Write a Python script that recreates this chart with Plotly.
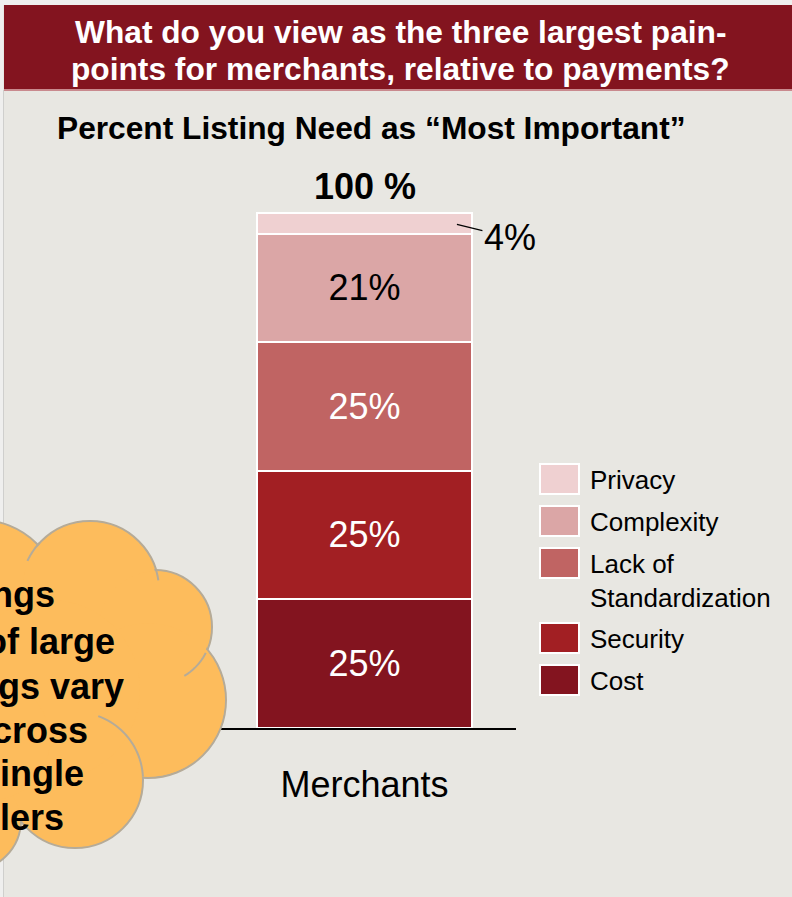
import numpy as np
import plotly.graph_objects as go

W, H = 792, 897
FONT = "Liberation Sans, Arial, Helvetica, sans-serif"

# ---- data -------------------------------------------------------------
category = ["Merchants"]
segments = ["Cost", "Security", "Lack of Standardization", "Complexity", "Privacy"]
legend_labels = ["Cost", "Security", "Lack of<br>Standardization", "Complexity", "Privacy"]
shares = [25, 25, 25, 21, 4]
seg_colors = ["#83141f", "#a21f23", "#c06463", "#dba6a6", "#efd0d1"]
label_colors = ["white", "white", "white", "black", "black"]

title_lines = ["What do you view as the three largest pain-",
               "points for merchants, relative to payments?"]
subtitle = "Percent Listing Need as \u201cMost Important\u201d"
callout_lines = ["ngs", "of large", "gs vary", "cross", "ingle", "lers"]


def px(x):
    return x / W


def py(y):
    return 1 - y / H


# plot frame in pixels: axis line at y=728, 100% at y=213
X_LEFT, X_RIGHT = 213, 516
Y_ZERO, Y_FULL = 728, 213
unit = (Y_ZERO - Y_FULL) / 100.0
y_top_val = 101
y_top_px = Y_ZERO - y_top_val * unit

fig = go.Figure()
for name, v, c, lc in zip(segments, shares, seg_colors, label_colors):
    fig.add_trace(go.Bar(
        x=category, y=[v], name=name,
        marker=dict(color=c, line=dict(color="white", width=2)),
        text=[f"{v}%" if v >= 10 else ""],
        textposition="inside", insidetextanchor="middle",
        textfont=dict(size=36, color=lc, family=FONT),
        width=0.71, showlegend=False, hoverinfo="skip",
    ))

total = sum(shares)
annotations = []
shapes = []

# total above the bar
annotations.append(dict(
    x=category[0], y=total, xref="x", yref="y", text=f"{total} %",
    showarrow=False, yanchor="middle", yshift=26,
    font=dict(size=36, family=FONT, color="black", weight="bold"),
))
# small top segment labelled outside with a leader line
annotations.append(dict(
    x=0.305, y=total - shares[-1] * 0.55, xref="x", yref="y",
    text=f"{shares[-1]}%", showarrow=True, arrowhead=0, arrowwidth=1.2,
    arrowcolor="black", ax=53, ay=13,
    font=dict(size=36, family=FONT, color="black"),
))

# ---- page frame ---------------------------------------------------------
shapes.append(dict(type="rect", xref="paper", yref="paper", layer="below",
                   x0=0, x1=1, y0=py(0), y1=py(5), fillcolor="#efefee", line_width=0))
shapes.append(dict(type="rect", xref="paper", yref="paper", layer="below",
                   x0=0, x1=px(3), y0=0, y1=1, fillcolor="#efefee", line_width=0))
shapes.append(dict(type="line", xref="paper", yref="paper", layer="below",
                   x0=px(3.5), x1=px(3.5), y0=0, y1=py(90),
                   line=dict(color="#cfcfcd", width=1)))
shapes.append(dict(type="rect", xref="paper", yref="paper", layer="below",
                   x0=px(4), x1=1, y0=py(89), y1=py(5), fillcolor="#83141f", line_width=0))
shapes.append(dict(type="rect", xref="paper", yref="paper", layer="below",
                   x0=px(4), x1=1, y0=py(91), y1=py(89), fillcolor="#c98a8e", line_width=0))

for txt, cy in zip(title_lines, [32, 69]):
    annotations.append(dict(
        x=px(400), y=py(cy), xref="paper", yref="paper", text=txt,
        showarrow=False, xanchor="center", yanchor="middle",
        font=dict(size=31.7, family=FONT, color="white", weight="bold"),
    ))
annotations.append(dict(
    x=px(371), y=py(128), xref="paper", yref="paper", text=subtitle,
    showarrow=False, xanchor="center", yanchor="middle",
    font=dict(size=31.7, family=FONT, color="black", weight="bold"),
))

# ---- legend (top to bottom mirrors the stack) -------------------------
ly = 479
for lab, col in zip(legend_labels[::-1], seg_colors[::-1]):
    nlines = lab.count("<br>") + 1
    shapes.append(dict(type="rect", xref="paper", yref="paper", layer="above",
                       x0=px(540), x1=px(579), y0=py(ly + 15), y1=py(ly - 15),
                       fillcolor=col, line=dict(color="white", width=2)))
    annotations.append(dict(
        x=px(588), y=py(ly + 1 + (nlines - 1) * 0.65 * 26), xref="paper", yref="paper",
        text=lab, showarrow=False, xanchor="left", yanchor="middle", align="left",
        font=dict(size=26, family=FONT, color="black"),
    ))
    ly += 42 + 33 * (nlines - 1)

# ---- callout cloud ------------------------------------------------------
CLOUD_FILL = "#fdbc5c"
CLOUD_EDGE = "#b5ab98"
lobes = [(-20, 600, 80), (90, 590, 69), (155, 627, 57), (148, 700, 78),
         (75, 780, 68), (-30, 820, 51)]
fillers = [(50, 690, 90), (-10, 740, 60)]


def circle(cx, cy, r, line):
    return dict(type="circle", xref="paper", yref="paper", layer="above",
                x0=px(cx - r), x1=px(cx + r), y0=py(cy + r), y1=py(cy - r),
                fillcolor=CLOUD_FILL, line=line)


for cx, cy, r in lobes:
    shapes.append(circle(cx, cy, r, dict(color=CLOUD_EDGE, width=2)))
for cx, cy, r in lobes:
    shapes.append(circle(cx, cy, r - 1.4, dict(width=0)))
for cx, cy, r in fillers:
    shapes.append(circle(cx, cy, r, dict(width=0)))


def arc_path(cx, cy, r, a0, a1, n=24):
    t = np.radians(np.linspace(a0, a1, n))
    xs = cx + r * np.cos(t)
    ys = cy + r * np.sin(t)
    pts = [f"{px(x):.5f},{py(y):.5f}" for x, y in zip(xs, ys)]
    return "M" + " L".join(pts)


creases = [((90, 590, 69), -137, -155), ((90, 590, 69), -17, -8),
           ((155, 627, 57), 27, 59), ((75, 780, 68), -70, -3)]
for (cx, cy, r), a0, a1 in creases:
    shapes.append(dict(type="path", xref="paper", yref="paper", layer="above",
                       path=arc_path(cx, cy, r, a0, a1),
                       line=dict(color=CLOUD_EDGE, width=2)))

# callout text runs past the left page edge; each line is anchored at its right end
right_ends = [55, 115, 124, 88, 84, 64]
baselines = [607, 654, 699, 743, 786, 830]
for txt, xr, yb in zip(callout_lines, right_ends, baselines):
    annotations.append(dict(
        x=px(xr + 2), y=py(yb - 12.5), xref="paper", yref="paper", text=txt,
        showarrow=False, xanchor="right", yanchor="middle",
        font=dict(size=36, family=FONT, color="black", weight="bold"),
    ))

fig.update_layout(
    width=W, height=H, margin=dict(l=0, r=0, t=0, b=0),
    paper_bgcolor="#e8e7e2", plot_bgcolor="rgba(0,0,0,0)",
    barmode="stack", bargap=0, showlegend=False,
    font=dict(family=FONT, color="black"),
    xaxis=dict(domain=[px(X_LEFT), px(X_RIGHT)], range=[-0.5, 0.5],
               showline=True, linecolor="black", linewidth=2, ticks="",
               showgrid=False, zeroline=False, ticklabelstandoff=24,
               tickfont=dict(size=36, family=FONT, color="black"),
               fixedrange=True),
    yaxis=dict(domain=[py(Y_ZERO), py(y_top_px)], range=[0, y_top_val],
               visible=False, showgrid=False, zeroline=False, fixedrange=True),
    shapes=shapes, annotations=annotations,
)

fig.write_html("out.html", config={"displayModeBar": False})
